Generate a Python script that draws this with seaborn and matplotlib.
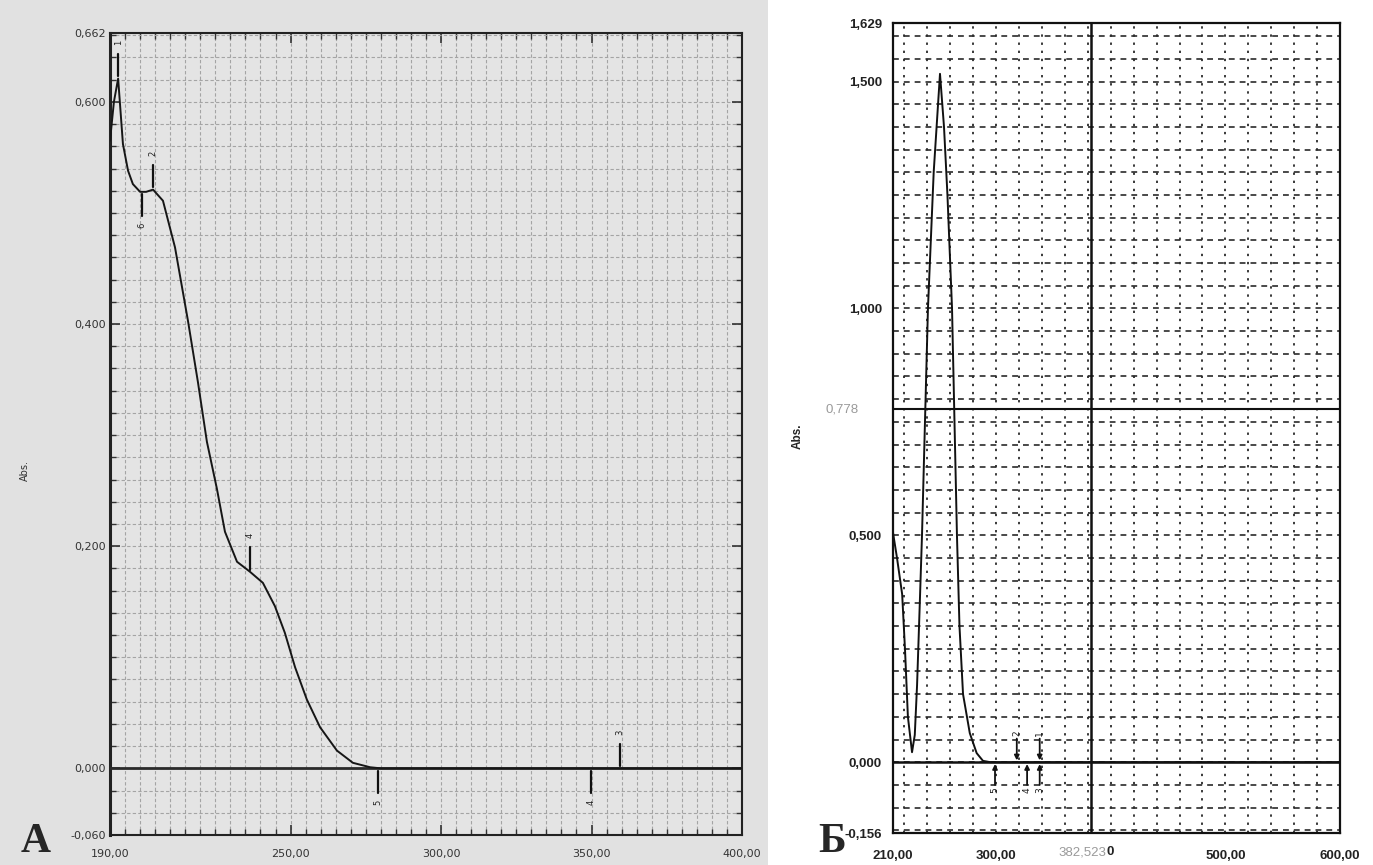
import numpy as np
import pandas as pd
import matplotlib
matplotlib.use("Agg")
import matplotlib.pyplot as plt
import seaborn as sns
from matplotlib.patches import Rectangle
from matplotlib.ticker import MultipleLocator

# ---------------- data: panel A ----------------
a_wavelength = [190.0, 191.3, 192.7, 194.3, 196.0, 197.6, 200.0, 202.0, 204.3, 207.6,
                211.6, 215.9, 219.2, 222.2, 225.5, 228.2, 232.2, 236.5, 240.8, 244.8,
                248.1, 251.5, 255.4, 259.8, 265.4, 270.7, 276.4, 280.0, 320.0, 360.0, 400.0]
a_abs = [0.565, 0.600, 0.621, 0.562, 0.538, 0.526, 0.519, 0.519, 0.521, 0.511,
         0.469, 0.403, 0.348, 0.294, 0.252, 0.213, 0.186, 0.177, 0.167, 0.146,
         0.122, 0.091, 0.062, 0.037, 0.016, 0.005, 0.001, 0.0, 0.0, 0.0, 0.0]
a_xticks = [190, 250, 300, 350, 400]
a_xlabels = ["190,00", "250,00", "300,00", "350,00", "400,00"]
a_yticks = [0.662, 0.600, 0.400, 0.200, 0.000, -0.060]
a_ylabels = ["0,662", "0,600", "0,400", "0,200", "0,000", "-0,060"]
# peak / valley markers
a_peak_x = [192.7, 204.3, 236.5, 359.4]
a_peak_y = [0.621, 0.521, 0.177, 0.0]
a_peak_lbl = ["1", "2", "4", "3"]
a_val_x = [200.5, 279.0, 349.8]
a_val_y = [0.519, 0.0, 0.0]
a_val_lbl = ["6", "5", "4"]

# ---------------- data: panel Б ----------------
b_wavelength = [210.0, 213.5, 218.0, 220.5, 223.0, 226.6, 229.0, 231.0, 233.5, 235.3,
                240.5, 245.5, 251.0, 254.5, 257.5, 261.5, 265.8, 268.0, 271.1, 277.0,
                283.0, 288.5, 295.0, 400.0, 500.0, 600.0]
b_abs = [0.506, 0.450, 0.370, 0.247, 0.100, 0.022, 0.060, 0.170, 0.360, 0.500,
         1.000, 1.300, 1.517, 1.400, 1.250, 1.000, 0.500, 0.300, 0.150, 0.064,
         0.020, 0.003, 0.0, 0.0, 0.0, 0.0]
b_xticks = [210, 300, 500, 600]
b_xlabels = ["210,00", "300,00", "500,00", "600,00"]
b_yticks = [1.629, 1.500, 1.000, 0.500, 0.000, -0.156]
b_ylabels = ["1,629", "1,500", "1,000", "0,500", "0,000", "-0,156"]
b_cursor_x = 382.523
b_cursor_y = 0.778
b_peak_x = [318.0, 338.0]
b_peak_lbl = ["2", "1"]
b_val_x = [299.0, 327.0, 338.0]
b_val_lbl = ["5", "4", "3"]

dfA = pd.DataFrame({"nm": a_wavelength, "abs": a_abs})
dfB = pd.DataFrame({"nm": b_wavelength, "abs": b_abs})

sns.set_theme(style="white")
plt.rcParams["font.family"] = ["DejaVu Sans"]

W, H = 1373, 865
fig = plt.figure(figsize=(W / 100, H / 100), dpi=100)
fig.patch.set_facecolor("white")
fig.patches.append(Rectangle((0, 0), 768 / W, 1, transform=fig.transFigure,
                             facecolor="#e1e1e1", edgecolor="none", zorder=-10))

# ---------------- panel A ----------------
axA = fig.add_axes([110 / W, 1 - 835 / H, (742 - 110) / W, (835 - 33) / H])
axA.set_facecolor("#e4e4e4")
sns.lineplot(data=dfA, x="nm", y="abs", ax=axA, color="#161616", linewidth=1.4,
             estimator=None, sort=False, zorder=5)
axA.set_xlim(190, 400)
axA.set_ylim(-0.060, 0.662)
axA.xaxis.set_minor_locator(MultipleLocator(5))
axA.yaxis.set_minor_locator(MultipleLocator(0.02))
axA.grid(which="both", color="#a4a4a4", linestyle=(0, (3, 2)), linewidth=0.8)
axA.set_axisbelow(True)
axA.axhline(0, color="#2a2a2a", linewidth=2.0, zorder=4)
axA.set_xticks(a_xticks)
axA.set_xticklabels(a_xlabels, fontsize=8, color="#333333")
axA.set_yticks(a_yticks)
axA.set_yticklabels(a_ylabels, fontsize=8, color="#333333")
axA.tick_params(which="both", direction="in", top=True, right=True, bottom=True, left=True,
                color="#333333")
axA.tick_params(which="major", length=7, width=1.2)
axA.tick_params(which="minor", length=4, width=1.0)
axA.tick_params(axis="x", which="major", pad=10)
axA.tick_params(axis="y", which="major", pad=3)
for s in axA.spines.values():
    s.set_color("#222222")
    s.set_linewidth(1.5)
axA.spines["left"].set_linewidth(2.2)
axA.set_xlabel("")
axA.set_ylabel("Abs.", fontsize=7, color="#333333")
axA.yaxis.set_label_coords(-0.127, 0.455)

for x, y, t in zip(a_peak_x, a_peak_y, a_peak_lbl):
    axA.plot([x, x], [y + 0.002, y + 0.022], color="#111111", linewidth=1.6, zorder=6)
    axA.text(x, y + 0.03, t, fontsize=6, rotation=90, ha="center", va="bottom", color="#222222")
for x, y, t in zip(a_val_x, a_val_y, a_val_lbl):
    axA.plot([x, x], [y - 0.002, y - 0.022], color="#111111", linewidth=1.6, zorder=6)
    axA.text(x, y - 0.028, t, fontsize=6, rotation=90, ha="center", va="top", color="#222222")

fig.text(36 / W, 1 - 842 / H, "A", fontsize=30, fontweight="bold",
         family=["Liberation Serif", "DejaVu Serif"], ha="center", va="center")

# ---------------- panel Б ----------------
axB = fig.add_axes([893 / W, 1 - 833 / H, (1340 - 893) / W, (833 - 23) / H])
axB.set_facecolor("white")
axB.set_xlim(210, 600)
axB.set_ylim(-0.156, 1.629)
for v in np.arange(220, 600, 20):
    axB.axvline(v, color="#2a2a2a", linestyle=(0, (1.3, 3.2)), linewidth=1.3, zorder=1)
for h in np.arange(-0.15, 1.63, 0.05):
    axB.axhline(h, color="#2a2a2a", linestyle=(0, (3.5, 3)), linewidth=1.2, zorder=1)
axB.axhline(0, color="#111111", linewidth=1.8, zorder=3)
axB.axhline(b_cursor_y, color="#111111", linewidth=1.5, zorder=3)
axB.axvline(b_cursor_x, color="#111111", linewidth=1.8, zorder=3)
sns.lineplot(data=dfB, x="nm", y="abs", ax=axB, color="#111111", linewidth=1.4,
             estimator=None, sort=False, zorder=5)
axB.set_xticks(b_xticks)
axB.set_xticklabels(b_xlabels, fontsize=9.5, fontweight="bold",
                    family=["Liberation Sans", "DejaVu Sans"], color="#222222")
axB.set_yticks(b_yticks)
axB.set_yticklabels(b_ylabels, fontsize=9.5, fontweight="bold",
                    family=["Liberation Sans", "DejaVu Sans"], color="#222222")
axB.tick_params(which="both", length=0)
axB.tick_params(axis="x", pad=12)
axB.tick_params(axis="y", pad=8)
for s in axB.spines.values():
    s.set_color("#111111")
    s.set_linewidth(1.6)
axB.set_xlabel("")
axB.set_ylabel("Abs.", fontsize=8.5, fontweight="bold",
               family=["Liberation Sans", "DejaVu Sans"])
axB.yaxis.set_label_coords(-0.2, 0.49)

# cursor labels
axB.text(-0.078, b_cursor_y, "0,778", transform=axB.get_yaxis_transform(),
         ha="right", va="center", fontsize=9.5, color="#9a9a9a",
         family=["Liberation Sans", "DejaVu Sans"])
axB.text(b_cursor_x + 13.5, -0.024, "382,523", transform=axB.get_xaxis_transform(),
         ha="right", va="center", fontsize=9.5, color="#9a9a9a",
         family=["Liberation Sans", "DejaVu Sans"])
axB.text(b_cursor_x + 13.5, -0.024, "0", transform=axB.get_xaxis_transform(),
         ha="left", va="center", fontsize=9.5, color="#222222", fontweight="bold",
         family=["Liberation Sans", "DejaVu Sans"])

for x, t in zip(b_peak_x, b_peak_lbl):
    axB.annotate("", xy=(x, 0.004), xytext=(x, 0.052),
                 arrowprops=dict(arrowstyle="-|>", color="#111111", lw=1.3,
                                 mutation_scale=7, shrinkA=0, shrinkB=0), zorder=6)
    axB.text(x, 0.058, t, fontsize=6.5, rotation=90, ha="center", va="bottom", color="#222222")
for x, t in zip(b_val_x, b_val_lbl):
    axB.annotate("", xy=(x, -0.004), xytext=(x, -0.05),
                 arrowprops=dict(arrowstyle="-|>", color="#111111", lw=1.3,
                                 mutation_scale=7, shrinkA=0, shrinkB=0), zorder=6)
    axB.text(x, -0.056, t, fontsize=6.5, rotation=90, ha="center", va="top", color="#222222")

fig.text(832 / W, 1 - 842 / H, "Б", fontsize=30, fontweight="bold",
         family=["Liberation Serif", "DejaVu Serif"], ha="center", va="center")

fig.savefig("out.png", dpi=100, facecolor=fig.get_facecolor())
